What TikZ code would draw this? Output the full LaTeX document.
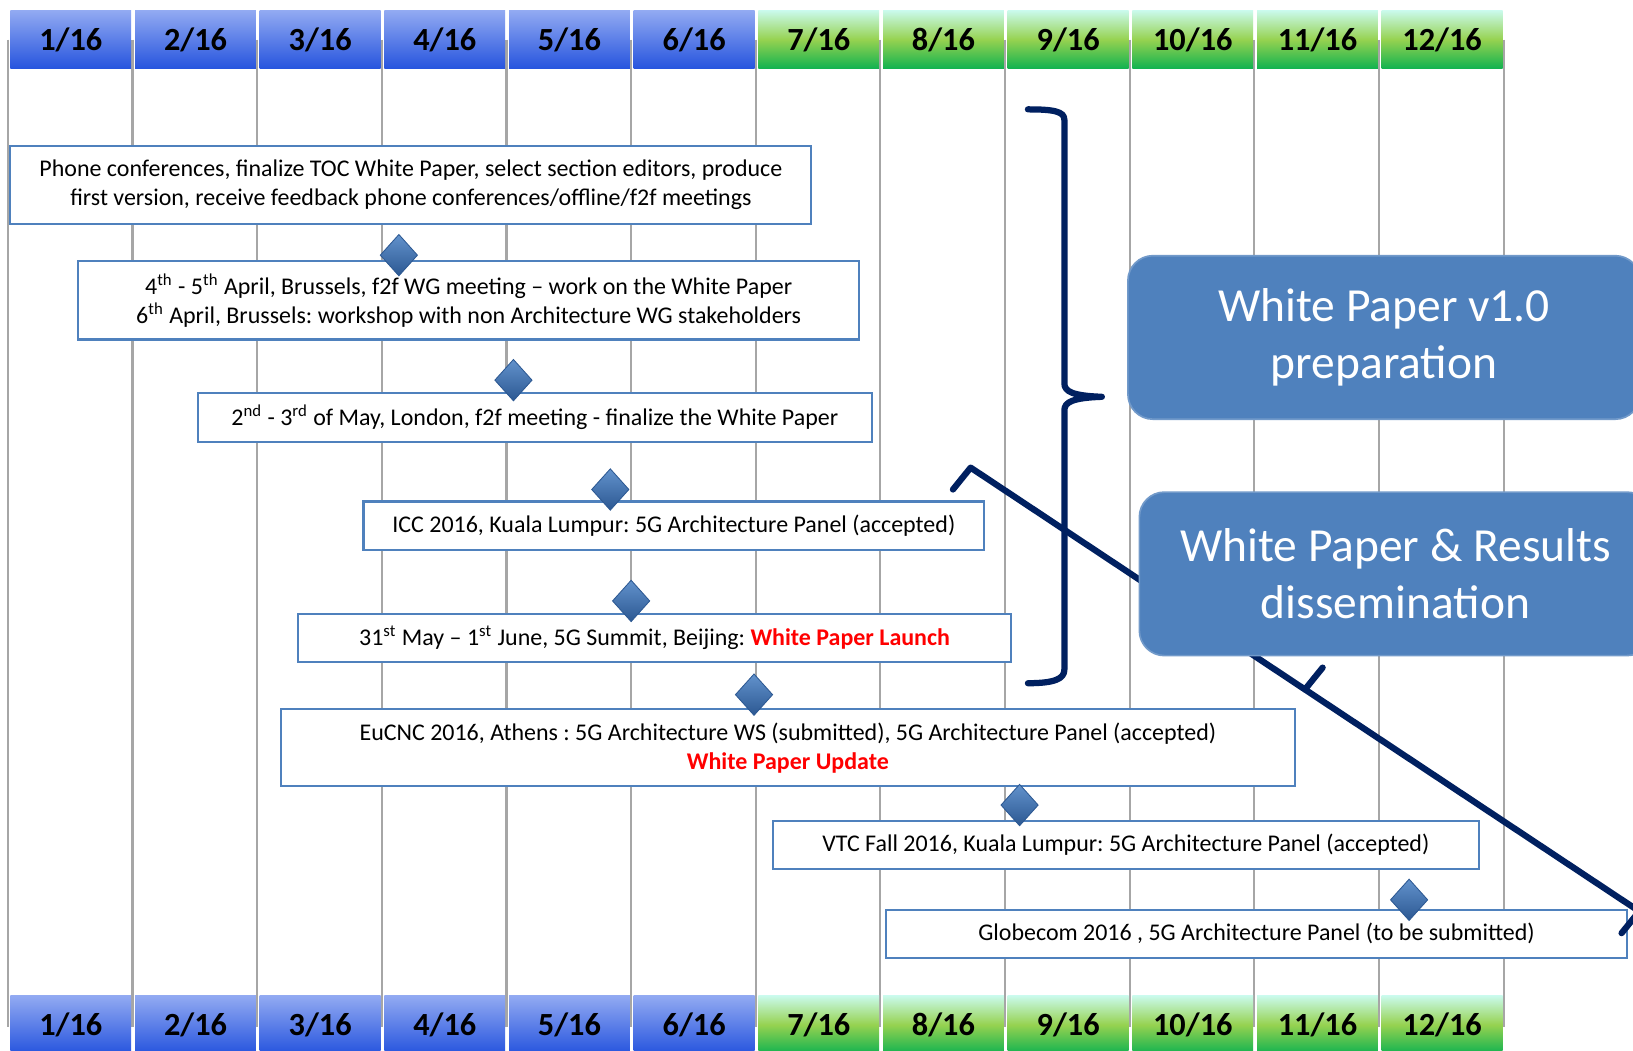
\documentclass[tikz,border=0pt]{standalone}
\usepackage{fontspec}
\setmainfont{Carlito}
\usepackage{tikz}
\usetikzlibrary{positioning}
\usetikzlibrary{shapes.geometric}
\definecolor{evBlue}{RGB}{79,129,189}
\definecolor{navyLine}{RGB}{0,32,96}
\definecolor{gridGray}{RGB}{166,166,166}
\definecolor{hdBlueTop}{RGB}{146,170,242}
\definecolor{hdBlueBot}{RGB}{38,84,222}
\definecolor{hdGreenTop}{RGB}{202,250,236}
\definecolor{hdGreenMid}{RGB}{150,210,80}
\definecolor{hdGreenBot}{RGB}{16,178,80}
\definecolor{diaTop}{RGB}{98,146,204}
\definecolor{diaBot}{RGB}{44,88,146}
\frenchspacing
\tikzset{
    month/.style={minimum width=58pt, minimum height=28pt, inner sep=0pt,
        font=\fontsize{15.5}{16}\selectfont\bfseries},
    bluecell/.style={top color=hdBlueTop, bottom color=hdBlueBot},
    greencell/.style={top color=hdGreenTop, bottom color=hdGreenBot, middle color=hdGreenMid},
    gridline/.style={draw=gridGray, line width=1pt},
    event/.style={draw=evBlue, line width=1pt, fill=white, inner sep=0pt,
        align=center, font=\fontsize{11.5}{14}\selectfont},
    milestone/.style={shape=diamond, minimum width=18pt, minimum height=20pt,
        inner sep=0pt, top color=diaTop, bottom color=diaBot, draw=diaBot, line width=0.4pt},
    callout/.style={fill=evBlue, draw=evBlue!80!white, line width=0.8pt, rounded corners=12pt,
        minimum width=246pt, minimum height=78.5pt, align=center, text=white,
        font=\fontsize{22.8}{27.5}\selectfont},
    bracket/.style={draw=navyLine, line width=3pt, line join=round, line cap=round}
}

\begin{document}
\begin{tikzpicture}[x=0.5pt,y=-0.5pt]
    \useasboundingbox (0,0) rectangle (1568,1009);
    \clip (0,0) rectangle (1568,1009);
    \fill[white] (0,0) rectangle (1568,1009);

    \foreach \i in {0,...,12}
        \draw[gridline] ({7.5+119.7*\i},38) -- ({7.5+119.7*\i},986);

    % month headers, top and bottom
    \foreach \m in {1,...,6} {
        \node[month,bluecell] (TOP\m) at ({68+119.7*(\m-1)},38) {\m/16};
        \node[month,bluecell] (BOT\m) at ({68+119.7*(\m-1)},984) {\m/16};
    }
    \foreach \m in {7,...,12} {
        \node[month,greencell] (TOP\m) at ({68+119.7*(\m-1)},38) {\m/16};
        \node[month,greencell] (BOT\m) at ({68+119.7*(\m-1)},984) {\m/16};
    }

    \node[event, minimum width=384.5pt, minimum height=37.5pt] (PHONE) at (394.5,177.5)
        {Phone conferences, finalize TOC White Paper, select section editors, produce\\
         first version, receive feedback phone conferences/offline/f2f meetings};
    \node[event, minimum width=375pt, minimum height=37.5pt] (BRUSSELS) at (450,288.5)
        {4\textsuperscript{th} - 5\textsuperscript{th} April, Brussels, f2f WG meeting – work on the White Paper\\
         6\textsuperscript{th} April, Brussels: workshop with non Architecture WG stakeholders};
    \node[event, minimum width=323.5pt, minimum height=23.5pt] (LONDON) at (513.5,401)
        {2\textsuperscript{nd} - 3\textsuperscript{rd} of May, London, f2f meeting - finalize the White Paper};
    \node[event, minimum width=298pt, minimum height=23.5pt] (ICC) at (647,505)
        {ICC 2016, Kuala Lumpur: 5G Architecture Panel (accepted)};
    \node[event, minimum width=342.5pt, minimum height=23pt] (SUMMIT) at (628.5,612.5)
        {31\textsuperscript{st} May – 1\textsuperscript{st} June, 5G Summit, Beijing: {\color{red}\bfseries White Paper Launch}};
    \node[event, minimum width=486.5pt, minimum height=37pt] (EUCNC) at (756.5,718)
        {EuCNC 2016, Athens : 5G Architecture WS (submitted), 5G Architecture Panel (accepted)\\
         {\color{red}\bfseries White Paper Update}};
    \node[event, minimum width=339pt, minimum height=23pt] (VTC) at (1081,811.5)
        {VTC Fall 2016, Kuala Lumpur: 5G Architecture Panel (accepted)};
    \node[event, minimum width=355.5pt, minimum height=23pt] (GLOBECOM) at (1206.5,896.5)
        {Globecom 2016 , 5G Architecture Panel (to be submitted)};

    % milestones
    \node[milestone] (M1) at (383,245) {};
    \node[milestone] (M2) at (493,365) {};
    \node[milestone] (M3) at (586,470) {};
    \node[milestone] (M4) at (606,577) {};
    \node[milestone] (M5) at (724,667) {};
    \node[milestone] (M6) at (979,773) {};
    \node[milestone] (M7) at (1353,864) {};

    % braces
    \draw[bracket] (987,105) .. controls (1012,105) and (1022,107) .. (1022,115)
        -- (1022,368) .. controls (1022,376) and (1030,380) .. (1058,381)
        .. controls (1030,382) and (1022,386) .. (1022,394)
        -- (1022,643) .. controls (1022,652) and (1012,656) .. (987,656);
    \draw[bracket] (915,470) -- (932,449) -- (1253,662) -- (1270,641);
    \draw[bracket] (1253,662) -- (1574,875) -- (1557,896);

    \node[callout] (PREP) at (1329,324) {White Paper v1.0\\preparation};
    \node[callout] (DISSEM) at (1340,551) {White Paper \& Results\\dissemination};
\end{tikzpicture}
\end{document}
